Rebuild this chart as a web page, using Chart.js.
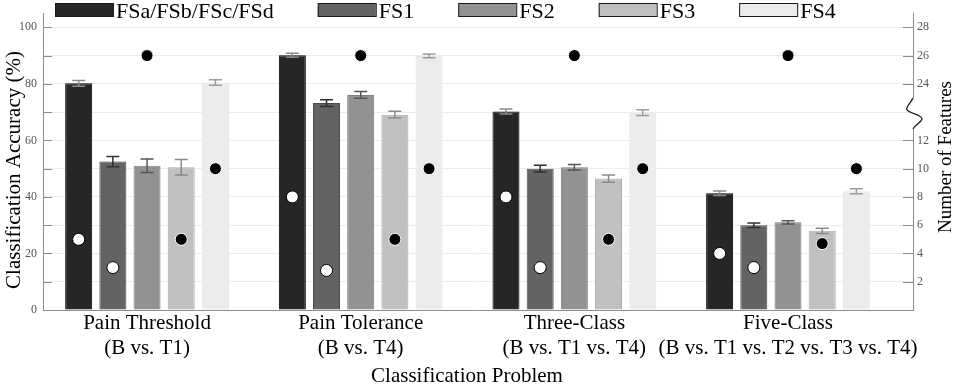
<!doctype html>
<html lang="en">
<head>
<meta charset="utf-8">
<script src="https://cdn.jsdelivr.net/npm/chart.js"></script>
<style>
    html, body { margin: 0; padding: 0; background: #fff; }
</style>
</head>
<body>
<canvas id="accChart" width="957" height="384"></canvas>

<script>
    // categories
    const problems = ['Pain Threshold', 'Pain Tolerance', 'Three-Class', 'Five-Class'];
    const comparisons = ['(B vs. T1)', '(B vs. T4)', '(B vs. T1 vs. T4)', '(B vs. T1 vs. T2 vs. T3 vs. T4)'];
    const setNames = ['FSa/FSb/FSc/FSd', 'FS1', 'FS2', 'FS3', 'FS4'];

    // classification accuracy (%)
    const accFSa = [80.2, 90.1, 70.2, 41.3];
    const accFS1 = [52.5, 73.2, 50.0, 30.0];
    const accFS2 = [51.0, 76.1, 50.5, 31.0];
    const accFS3 = [50.5, 69.1, 46.5, 28.0];
    const accFS4 = [80.5, 89.9, 69.8, 42.0];

    // error bars (+/-)
    const errFSa = [1.0, 0.7, 0.9, 0.8];
    const errFS1 = [1.8, 1.2, 1.2, 0.8];
    const errFS2 = [2.4, 1.2, 1.0, 0.6];
    const errFS3 = [2.7, 1.2, 1.3, 0.9];
    const errFS4 = [1.0, 0.7, 1.0, 0.9];

    // number of features (right axis, dots)
    const nFSa = [5, 8, 8, 4];
    const nFS1 = [3, 2.8, 3, 3];
    const nFS2 = [26, 26, 26, 26];
    const nFS3 = [5, 5, 5, 4.7];
    const nFS4 = [10, 10, 10, 10];

    // tick labels
    const accTicks = [0, 10, 20, 30, 40, 50, 60, 70, 80, 90, 100];
    const featTicks = [2, 4, 6, 8, 10, 12, 24, 26, 28];

    // right axis is broken between 12 and 24
    function featToAxis(f) { return f <= 12 ? f * 5 : 80 + (f - 24) * 5; }
    function axisToFeat(v) { return v <= 60 ? v / 5 : 24 + (v - 80) / 5; }

    const FONT = "'Liberation Serif', 'Times New Roman', serif";
    const AXIS = '#8c8c8c';

    function makeSet(i, acc, err, feats, fill, border, errColor, dotFill, dotBorder) {
        return {
            label: setNames[i],
            data: acc.map((v, j) => ({ x: j + 1, y: v })),
            errors: err,
            feats: feats,
            backgroundColor: fill,
            borderColor: border,
            borderWidth: 1,
            errColor: errColor,
            dotFill: dotFill,
            dotBorder: dotBorder
        };
    }

    const datasets = [
        makeSet(0, accFSa, errFSa, nFSa, '#262626', '#000000', '#8a8a8a', '#ffffff', '#000000'),
        makeSet(1, accFS1, errFS1, nFS1, '#636363', '#4a4a4a', '#303030', '#ffffff', '#000000'),
        makeSet(2, accFS2, errFS2, nFS2, '#929292', '#808080', '#555555', '#000000', '#ffffff'),
        makeSet(3, accFS3, errFS3, nFS3, '#c0c0c0', '#ababab', '#8a8a8a', '#000000', '#ffffff'),
        makeSet(4, accFS4, errFS4, nFS4, '#ececec', '#e6e6e6', '#9c9c9c', '#000000', '#ffffff')
    ];

    const extras = {
        id: 'extras',
        afterDatasetsDraw(chart) {
            const ctx = chart.ctx;
            const y = chart.scales.y, y2 = chart.scales.y2;
            // error bars
            chart.data.datasets.forEach((ds, i) => {
                chart.getDatasetMeta(i).data.forEach((bar, j) => {
                    const v = ds.data[j].y, e = ds.errors[j];
                    const top = y.getPixelForValue(v + e);
                    const bot = y.getPixelForValue(v - e);
                    ctx.save();
                    ctx.strokeStyle = ds.errColor;
                    ctx.lineWidth = 1.5;
                    ctx.beginPath();
                    ctx.moveTo(bar.x, top); ctx.lineTo(bar.x, bot);
                    ctx.moveTo(bar.x - 6.5, top); ctx.lineTo(bar.x + 6.5, top);
                    ctx.moveTo(bar.x - 6.5, bot); ctx.lineTo(bar.x + 6.5, bot);
                    ctx.stroke();
                    ctx.restore();
                });
            });
            // feature count dots
            chart.data.datasets.forEach((ds, i) => {
                chart.getDatasetMeta(i).data.forEach((bar, j) => {
                    const py = y2.getPixelForValue(featToAxis(ds.feats[j]));
                    ctx.save();
                    ctx.beginPath();
                    ctx.arc(bar.x, py, 6, 0, Math.PI * 2);
                    ctx.fillStyle = ds.dotFill;
                    ctx.fill();
                    ctx.lineWidth = 1;
                    ctx.strokeStyle = ds.dotBorder;
                    ctx.stroke();
                    ctx.restore();
                });
            });
        },
        afterDraw(chart) {
            const ctx = chart.ctx;
            const area = chart.chartArea;
            const y = chart.scales.y, y2 = chart.scales.y2;
            ctx.save();
            // inside tick marks
            ctx.strokeStyle = AXIS;
            ctx.lineWidth = 1;
            ctx.beginPath();
            accTicks.forEach(v => {
                const py = Math.round(y.getPixelForValue(v)) + 0.5;
                ctx.moveTo(area.left, py); ctx.lineTo(area.left + 9, py);
            });
            featTicks.forEach(f => {
                const py = Math.round(y2.getPixelForValue(featToAxis(f))) + 0.5;
                ctx.moveTo(area.right - 10, py); ctx.lineTo(area.right, py);
            });
            ctx.stroke();

            // axis break on the right
            const b1 = y2.getPixelForValue(75), b2 = y2.getPixelForValue(64);
            const bx = area.right;
            ctx.fillStyle = '#fff';
            ctx.fillRect(bx - 2, b1, 4, b2 - b1);
            ctx.strokeStyle = '#1a1a1a';
            ctx.lineWidth = 1.3;
            ctx.beginPath();
            const h = b2 - b1;
            ctx.moveTo(bx, b1);
            ctx.bezierCurveTo(bx - 2, b1 + h * 0.15, bx - 8, b1 + h * 0.3, bx - 6, b1 + h * 0.38);
            ctx.bezierCurveTo(bx - 3, b1 + h * 0.5, bx + 10, b1 + h * 0.55, bx + 9, b1 + h * 0.68);
            ctx.bezierCurveTo(bx + 8, b1 + h * 0.8, bx + 2, b1 + h * 0.85, bx, b2);
            ctx.stroke();

            // legend
            ctx.font = '22px ' + FONT;
            ctx.textBaseline = 'alphabetic';
            ctx.textAlign = 'left';
            let lx = 55;
            chart.data.datasets.forEach(ds => {
                ctx.fillStyle = ds.backgroundColor;
                ctx.fillRect(lx, 3, 58, 14);
                ctx.strokeStyle = '#1a1a1a';
                ctx.lineWidth = 1;
                ctx.strokeRect(lx + 0.5, 3.5, 58, 13);
                ctx.fillStyle = '#000';
                ctx.fillText(ds.label, lx + 61, 17.5);
                lx += 58 + 3 + ctx.measureText(ds.label).width + 44;
            });

            // axis titles
            ctx.fillStyle = '#000';
            ctx.textAlign = 'center';
            ctx.textBaseline = 'alphabetic';
            ctx.font = '21px ' + FONT;
            ctx.fillText('Classification Problem', 467, 382);

            ctx.save();
            ctx.translate(14, 170);
            ctx.rotate(-Math.PI / 2);
            ctx.textBaseline = 'middle';
            ctx.fillText('Classification Accuracy (%)', 0, 0);
            ctx.restore();

            ctx.save();
            ctx.translate(946, 157);
            ctx.rotate(-Math.PI / 2);
            ctx.textBaseline = 'middle';
            ctx.font = '19px ' + FONT;
            ctx.fillText('Number of Features', 0, 0);
            ctx.restore();

            ctx.restore();
        }
    };

    const config = {
        type: 'bar',
        data: { datasets: datasets },
        options: {
            responsive: false,
            devicePixelRatio: 1,
            animation: false,
            categoryPercentage: 0.8,
            barPercentage: 0.79,
            layout: { padding: { top: 8, left: 0, right: 0, bottom: 0 } },
            plugins: {
                legend: { display: false },
                tooltip: { enabled: false }
            },
            scales: {
                x: {
                    type: 'linear',
                    min: 0.513,
                    max: 4.585,
                    offset: false,
                    grid: { display: false, drawTicks: false },
                    border: { display: true, color: AXIS },
                    afterBuildTicks: s => { s.ticks = problems.map((p, i) => ({ value: i + 1 })); },
                    afterFit: s => { s.height = 74; },
                    ticks: {
                        padding: 1,
                        maxRotation: 0,
                        autoSkip: false,
                        color: '#000',
                        font: { family: FONT, size: 21, lineHeight: 1.2 },
                        callback: v => [problems[v - 1], comparisons[v - 1]]
                    }
                },
                y: {
                    position: 'left',
                    min: 0,
                    max: 105,
                    grid: { color: '#ececec', drawTicks: false },
                    border: { display: true, color: AXIS },
                    afterBuildTicks: s => { s.ticks = accTicks.map(v => ({ value: v })); },
                    afterFit: s => { s.width = 43; },
                    ticks: {
                        padding: 6,
                        color: '#555',
                        font: { family: FONT, size: 12 },
                        callback: v => (v % 20 === 0 ? v : '')
                    }
                },
                y2: {
                    position: 'right',
                    min: 0,
                    max: 105,
                    grid: { display: false, drawTicks: false },
                    border: { display: true, color: AXIS },
                    afterBuildTicks: s => { s.ticks = featTicks.map(f => ({ value: featToAxis(f) })); },
                    afterFit: s => { s.width = 44; },
                    ticks: {
                        padding: 4,
                        color: '#555',
                        font: { family: FONT, size: 12 },
                        callback: v => Math.round(axisToFeat(v))
                    }
                }
            }
        },
        plugins: [extras]
    };

    new Chart(document.getElementById('accChart'), config);
</script>
</body>
</html>
